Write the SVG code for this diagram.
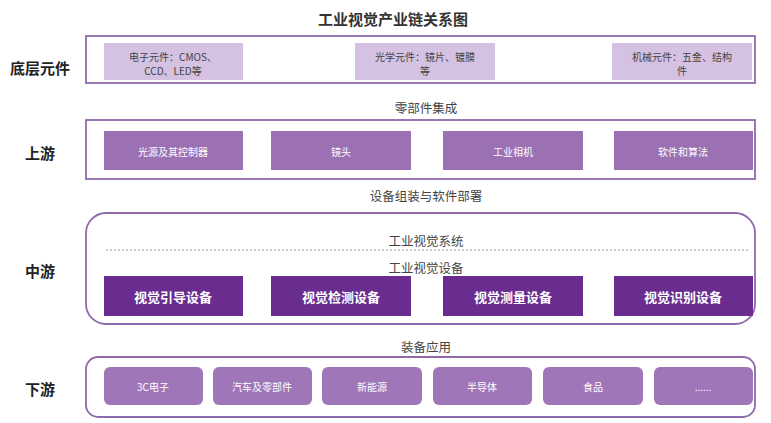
<svg xmlns="http://www.w3.org/2000/svg" width="771" height="423" viewBox="0 0 771 423">
<style>
text{font-family:"Noto Sans CJK SC","Noto Sans",sans-serif;text-anchor:middle;dominant-baseline:central}
.t{font-size:15px;font-weight:bold;fill:#333}
.lab{font-size:15px;font-weight:bold;fill:#222}
.sec{font-size:12.5px;fill:#444}
.outer{fill:#fff;stroke:#8e6aab;stroke-width:1.8}
.b1{fill:#d5c1e2}
.b2{fill:#9b71b3}
.b3{fill:#6a2c8f}
.b4{fill:#9f76b7}
.w1{font-size:10px;fill:#444}
.w2{font-size:10px;fill:#fff}
.w3{font-size:13px;font-weight:bold;fill:#fff}
</style>
<rect width="771" height="423" fill="#fff"/>
<text class="t" x="393" y="18">工业视觉产业链关系图</text>
<g id="row1">
<text class="lab" x="40" y="67">底层元件</text>
<rect class="outer" x="86" y="36" width="669" height="47"/>
<rect class="b1" x="104" y="43" width="139" height="37"/>
<text class="w1" x="173" y="56">电子元件：CMOS、</text><text class="w1" x="173" y="70">CCD、LED等</text>
<rect class="b1" x="355" y="43" width="140" height="37"/>
<text class="w1" x="425" y="56">光学元件：镜片、镀膜</text><text class="w1" x="425" y="70">等</text>
<rect class="b1" x="612" y="43" width="140" height="37"/>
<text class="w1" x="682" y="56">机械元件：五金、结构</text><text class="w1" x="682" y="70">件</text>
</g>
<text class="sec" x="426" y="107">零部件集成</text>
<g id="row2">
<text class="lab" x="40" y="152">上游</text>
<rect class="outer" x="86" y="120" width="669" height="59"/>
<rect class="b2" x="104" y="131" width="139" height="39"/><text class="w2" x="173" y="151">光源及其控制器</text>
<rect class="b2" x="271" y="131" width="140" height="39"/><text class="w2" x="341" y="151">镜头</text>
<rect class="b2" x="443" y="131" width="140" height="39"/><text class="w2" x="513" y="151">工业相机</text>
<rect class="b2" x="614" y="131" width="139" height="39"/><text class="w2" x="683" y="151">软件和算法</text>
</g>
<text class="sec" x="426" y="195">设备组装与软件部署</text>
<g id="row3">
<text class="lab" x="40" y="270">中游</text>
<rect class="outer" x="86" y="213" width="669" height="111" rx="20"/>
<text class="sec" x="426" y="240">工业视觉系统</text>
<text class="sec" x="426" y="267">工业视觉设备</text>
<rect class="b3" x="104" y="276" width="139" height="40"/><text class="w3" x="173" y="296">视觉引导设备</text>
<rect class="b3" x="271" y="276" width="140" height="40"/><text class="w3" x="341" y="296">视觉检测设备</text>
<rect class="b3" x="443" y="276" width="140" height="40"/><text class="w3" x="513" y="296">视觉测量设备</text>
<rect class="b3" x="614" y="276" width="139" height="40"/><text class="w3" x="683" y="296">视觉识别设备</text>
</g>
<g id="connectors">
<line x1="106" y1="250" x2="748" y2="250" stroke="#999" stroke-width="1" stroke-dasharray="2,2"/>
</g>
<text class="sec" x="426" y="346">装备应用</text>
<g id="row4">
<text class="lab" x="40" y="388">下游</text>
<rect class="outer" x="86" y="357" width="669" height="60" rx="12"/>
<rect class="b4" x="104" y="367" width="99" height="38" rx="6"/><text class="w2" x="153" y="386">3C电子</text>
<rect class="b4" x="213" y="367" width="99" height="38" rx="6"/><text class="w2" x="262" y="386">汽车及零部件</text>
<rect class="b4" x="322" y="367" width="100" height="38" rx="6"/><text class="w2" x="372" y="386">新能源</text>
<rect class="b4" x="433" y="367" width="99" height="38" rx="6"/><text class="w2" x="482" y="386">半导体</text>
<rect class="b4" x="543" y="367" width="100" height="38" rx="6"/><text class="w2" x="593" y="386">食品</text>
<rect class="b4" x="654" y="367" width="99" height="38" rx="6"/><text class="w2" x="703" y="386">......</text>
</g>
</svg>
